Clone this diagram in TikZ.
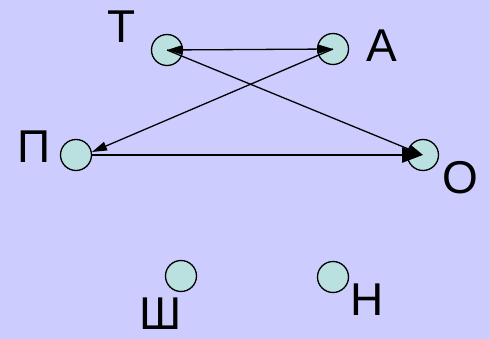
\documentclass[tikz,border=0pt]{standalone}
\usepackage{fontspec}
\setmainfont{Liberation Sans}
\usetikzlibrary{arrows.meta}
\definecolor{bg}{RGB}{204,204,255}
\definecolor{dotfill}{RGB}{187,224,224}
\tikzset{thintip/.tip={Triangle[length=15pt,width=9pt]}}
\begin{document}
\begin{tikzpicture}[x=1pt,y=-1pt,
  dot/.style={circle,draw=black,line width=1.3pt,fill=dotfill,minimum size=31pt,inner sep=0pt},
  lbl/.style={anchor=base,inner sep=0pt,font=\fontsize{46}{50}\selectfont},
  thin/.style={line width=1.3pt,-thintip},
  thick/.style={line width=2.7pt,-{Triangle[length=21pt,width=15pt]}}]
\fill[bg] (0,0) rectangle (490,339);
\useasboundingbox (0,0) rectangle (490,339);
\node[dot] (T) at (167,50) {};
\node[dot] (A) at (333,49) {};
\node[dot] (P) at (76,155) {};
\node[dot] (O) at (423,155) {};
\node[dot] (Sh) at (181,276) {};
\node[dot] (N) at (333,277) {};
\node[lbl] (lT) at (122,43) {Т};
\node[lbl] (lA) at (382,62) {А};
\node[lbl] (lP) at (34,163) {П};
\node[lbl] (lO) at (460,194) {О};
\node[lbl] (lSh) at (161,329) {Ш};
\node[lbl] (lN) at (367,315) {Н};
\coordinate (Pend) at (92,152);
\draw[thin,thintip-thintip] (T.center) -- (A.center);
\draw[thin] (A.center) -- (Pend);
\draw[thin] (T.center) -- (O.center);
\draw[thick] (P.east) -- (O.center);
\end{tikzpicture}
\end{document}
